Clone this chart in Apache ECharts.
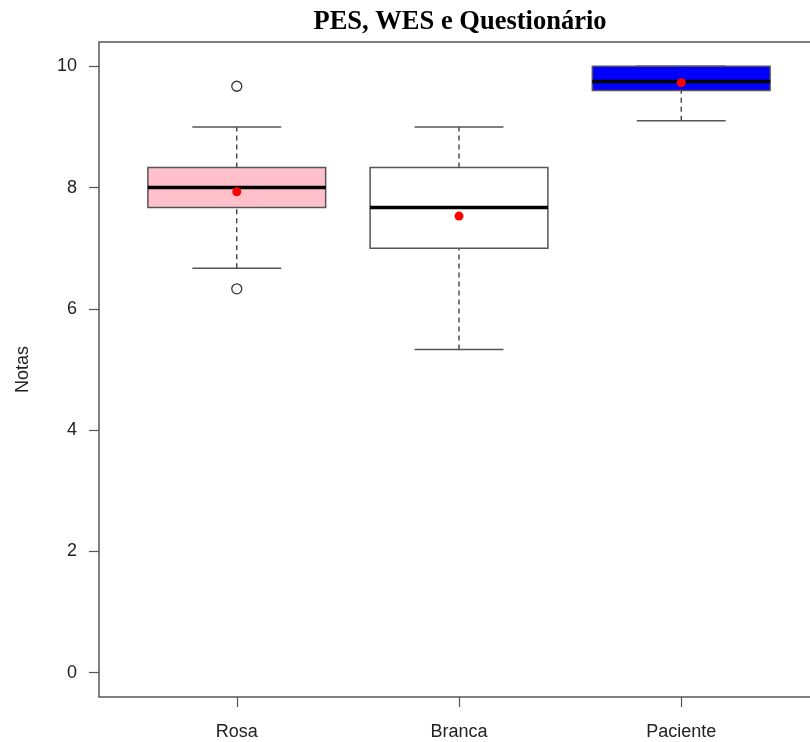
<!DOCTYPE html>
<html>
<head>
<meta charset="utf-8">
<script src="https://cdn.jsdelivr.net/npm/echarts@6/dist/echarts.min.js"></script>
<style>
  html, body { margin: 0; padding: 0; background: #fff; }
  #chart { width: 810px; height: 742px; }
</style>
</head>
<body>
<div id="chart"></div>
<script>
  // dados
  const categories = ["Rosa", "Branca", "Paciente"];
  const whiskerLow = [6.67, 5.33, 9.1];
  const q1 = [7.67, 7.0, 9.6];
  const medians = [8.0, 7.67, 9.75];
  const q3 = [8.33, 8.33, 10.0];
  const whiskerHigh = [9.0, 9.0, 10.0];
  const means = [7.93, 7.53, 9.73];
  const outliers = [[1, 9.67], [1, 6.33]];
  const yTicks = [0, 2, 4, 6, 8, 10];

  const boxFill = ["#FFC0CB", "#FFFFFF", "#0000FF"];

  const chart = echarts.init(document.getElementById("chart"));

  const boxData = categories.map((c, i) => [i + 1, whiskerLow[i], q1[i], medians[i], q3[i], whiskerHigh[i]]);

  const renderBox = (params, api) => {
    const x = api.value(0);
    const lo = api.value(1), b1 = api.value(2), md = api.value(3), b3 = api.value(4), hi = api.value(5);
    const tl = api.coord([x - 0.4, b3]);
    const br = api.coord([x + 0.4, b1]);
    const cx = api.coord([x, md])[0];
    const capL = api.coord([x - 0.2, lo])[0];
    const capR = api.coord([x + 0.2, lo])[0];
    const yLo = api.coord([x, lo])[1];
    const yHi = api.coord([x, hi])[1];
    const yMd = api.coord([x, md])[1];
    const grey = "#555";
    const dashed = { stroke: "#222", lineWidth: 1.2, lineDash: [5, 4] };
    return {
      type: "group",
      children: [
        { type: "line", shape: { x1: cx, y1: yLo, x2: cx, y2: br[1] }, style: dashed },
        { type: "line", shape: { x1: cx, y1: tl[1], x2: cx, y2: yHi }, style: dashed },
        { type: "line", shape: { x1: capL, y1: yLo, x2: capR, y2: yLo }, style: { stroke: grey, lineWidth: 1.5 } },
        { type: "line", shape: { x1: capL, y1: yHi, x2: capR, y2: yHi }, style: { stroke: grey, lineWidth: 1.5 } },
        {
          type: "rect",
          shape: { x: tl[0], y: tl[1], width: br[0] - tl[0], height: br[1] - tl[1] },
          style: { fill: boxFill[params.dataIndex], stroke: grey, lineWidth: 1.5 }
        },
        { type: "line", shape: { x1: tl[0], y1: yMd, x2: br[0], y2: yMd }, style: { stroke: "#000", lineWidth: 3.5 } }
      ]
    };
  };

  const option = {
    animation: false,
    grid: {
      left: 99,
      top: 42,
      width: 720,
      height: 655,
      outerBoundsMode: "none",
      containLabel: false,
      show: true,
      borderColor: "#555",
      borderWidth: 1.5,
      backgroundColor: "transparent"
    },
    graphic: [
      {
        type: "text",
        x: 460,
        y: 36,
        style: {
          text: "PES, WES e Questionário",
          font: "bold 26.5px 'Liberation Serif', 'Times New Roman', serif",
          fill: "#000",
          textAlign: "center",
          textVerticalAlign: "bottom"
        }
      }
    ],
    xAxis: {
      type: "value",
      min: 0.38,
      max: 3.62,
      axisLine: { show: false, onZero: false },
      splitLine: { show: false },
      axisTick: { show: true, length: 10, customValues: [1, 2, 3], lineStyle: { color: "#555", width: 1.2 } },
      axisLabel: {
        customValues: [1, 2, 3],
        formatter: v => categories[Math.round(v) - 1],
        margin: 26,
        fontFamily: "'Liberation Sans', Arial, sans-serif",
        fontSize: 18,
        color: "#222"
      }
    },
    yAxis: {
      type: "value",
      min: -0.4,
      max: 10.4,
      name: "Notas",
      nameLocation: "middle",
      nameGap: 67,
      nameTextStyle: { fontFamily: "'Liberation Sans', Arial, sans-serif", fontSize: 18, color: "#222" },
      axisLine: { show: false, onZero: false },
      splitLine: { show: false },
      axisTick: { show: true, length: 10, customValues: yTicks, lineStyle: { color: "#555", width: 1.2 } },
      axisLabel: {
        customValues: yTicks,
        margin: 22,
        fontFamily: "'Liberation Sans', Arial, sans-serif",
        fontSize: 18,
        color: "#222"
      }
    },
    series: [
      {
        type: "custom",
        renderItem: renderBox,
        encode: { x: 0, y: [1, 2, 3, 4, 5] },
        data: boxData,
        z: 2
      },
      {
        type: "scatter",
        data: outliers,
        symbol: "circle",
        symbolSize: 10,
        itemStyle: { color: "#ffffff", borderColor: "#333", borderWidth: 1.3, opacity: 1 },
        z: 3
      },
      {
        type: "scatter",
        data: means.map((m, i) => [i + 1, m]),
        symbol: "circle",
        symbolSize: 9,
        itemStyle: { color: "#FF0000", opacity: 1 },
        z: 4
      }
    ]
  };

  chart.setOption(option);
</script>
</body>
</html>
